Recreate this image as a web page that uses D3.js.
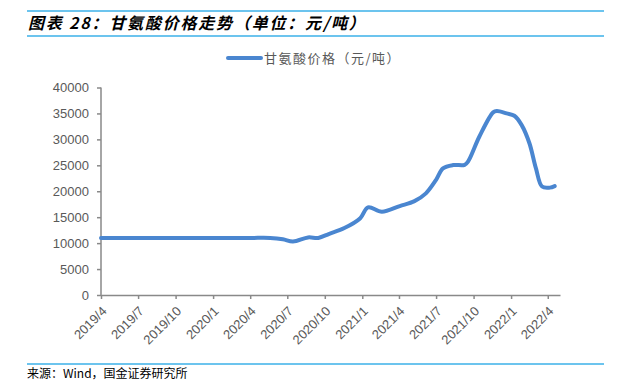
<!DOCTYPE html>
<html>
<head>
<meta charset="utf-8">
<script src="https://cdn.jsdelivr.net/npm/d3@7"></script>
<style>
  body { margin: 0; background: #fff; }
  svg { display: block; }
</style>
</head>
<body>
<div id="chart"></div>
<script>
"use strict";
const title = '图表 28：甘氨酸价格走势（单位：元/吨）';
const seriesName = '甘氨酸价格（元/吨）';
const source = '来源：Wind，国金证券研究所';
const dates = [
    '2019-04-01', '2019-07-01', '2019-10-01', '2020-01-01', '2020-04-01',
    '2020-05-20', '2020-06-20', '2020-07-15', '2020-08-21', '2020-09-15',
    '2020-10-12', '2020-11-18', '2020-12-27', '2021-01-15', '2021-02-18',
    '2021-04-03', '2021-05-09', '2021-06-06', '2021-07-01', '2021-07-18',
    '2021-08-12', '2021-09-09', '2021-09-18', '2021-10-15', '2021-11-18',
    '2021-11-27', '2021-12-21', '2022-01-09', '2022-01-27', '2022-02-15',
    '2022-03-03', '2022-03-18', '2022-04-06', '2022-04-18'
];
const prices = [
    11000, 11000, 11000, 11000, 11000,
    11000, 10750, 10300, 11100, 11000,
    11800, 12900, 14800, 16900, 16050,
    17150, 18100, 19600, 22200, 24400,
    25050, 25100, 25800, 30500, 35200,
    35450, 35000, 34550, 32750, 29250,
    24400, 20900, 20700, 21000
];
const yTicks = [0, 5000, 10000, 15000, 20000, 25000, 30000, 35000, 40000];
const xTickLabels = ['2019/4', '2019/7', '2019/10', '2020/1', '2020/4', '2020/7', '2020/10',
    '2021/1', '2021/4', '2021/7', '2021/10', '2022/1', '2022/4'];

const width = 619;
const height = 382;
const parse = d3.timeParse('%Y-%m-%d');
const data = dates.map((d, i) => ({ date: parse(d), value: prices[i] }));
const tickDates = xTickLabels.map(s => d3.timeParse('%Y/%m')(s));

const svg = d3.select('#chart').append('svg')
    .attr('width', width)
    .attr('height', height);

// header and footer rules
const rule = '#3bb0e8';
svg.append('line').attr('x1', 27).attr('x2', 604).attr('y1', 11).attr('y2', 11)
    .attr('stroke', rule).attr('stroke-width', 1.5);
svg.append('line').attr('x1', 27).attr('x2', 604).attr('y1', 36).attr('y2', 36)
    .attr('stroke', rule).attr('stroke-width', 1.5);
svg.append('line').attr('x1', 27).attr('x2', 604).attr('y1', 364).attr('y2', 364)
    .attr('stroke', rule).attr('stroke-width', 1.5);

svg.append('text')
    .attr('x', 28).attr('y', 29)
    .attr('font-family', '"Noto Sans CJK SC", sans-serif')
    .attr('font-size', 16)
    .attr('letter-spacing', 1.8)
    .attr('font-weight', 'bold')
    .attr('font-style', 'italic')
    .attr('fill', '#000')
    .text(title);

svg.append('text')
    .attr('x', 27).attr('y', 378)
    .attr('font-family', '"Noto Sans CJK SC", sans-serif')
    .attr('font-size', 12)
    .attr('fill', '#000')
    .text(source);

// scales
const x = d3.scaleTime()
    .domain([parse('2019-04-01'), parse('2022-05-01')])
    .range([101, 560]);
const y = d3.scaleLinear()
    .domain([0, 40000])
    .range([295, 87.5]);

const axisColor = '#898989';
const labelColor = '#595959';

// y axis
const yAxis = svg.append('g')
    .attr('transform', 'translate(101,0)')
    .call(d3.axisLeft(y).tickValues(yTicks).tickSize(4).tickPadding(8).tickFormat(d3.format('d')));
yAxis.select('.domain').attr('stroke', axisColor).attr('stroke-width', 1.5).attr('d', `M0,${y(40000)}V${y(0)}`);
yAxis.selectAll('.tick line').attr('stroke', axisColor).attr('stroke-width', 1.5);
yAxis.selectAll('.tick text')
    .attr('fill', labelColor)
    .attr('font-family', '"Liberation Sans", Arial, sans-serif')
    .attr('font-size', 13);

// x axis
const xAxis = svg.append('g')
    .attr('transform', 'translate(0,295)')
    .call(d3.axisBottom(x).tickValues(tickDates).tickSize(4).tickSizeOuter(0)
        .tickFormat((d, i) => xTickLabels[i]));
xAxis.select('.domain').attr('stroke', axisColor).attr('stroke-width', 1.5);
xAxis.selectAll('.tick line').attr('stroke', axisColor).attr('stroke-width', 1.5);
xAxis.selectAll('.tick text')
    .attr('fill', labelColor)
    .attr('font-family', '"Liberation Sans", Arial, sans-serif')
    .attr('font-size', 13)
    .attr('text-anchor', 'end')
    .attr('dy', null)
    .attr('y', 0)
    .attr('transform', 'translate(6,17) rotate(-45)');

// series line
const line = d3.line()
    .x(d => x(d.date))
    .y(d => y(d.value))
    .curve(d3.curveCatmullRom.alpha(0.5));

svg.append('path')
    .datum(data)
    .attr('fill', 'none')
    .attr('stroke', '#4a86d0')
    .attr('stroke-width', 4)
    .attr('stroke-linejoin', 'round')
    .attr('stroke-linecap', 'round')
    .attr('d', line);

// legend
svg.append('line')
    .attr('x1', 228).attr('x2', 261).attr('y1', 58).attr('y2', 58)
    .attr('stroke', '#4a86d0').attr('stroke-width', 4).attr('stroke-linecap', 'round');
svg.append('text')
    .attr('x', 264).attr('y', 62.5)
    .attr('font-family', '"Noto Sans CJK SC", sans-serif')
    .attr('font-size', 13)
    .attr('letter-spacing', 1.5)
    .attr('fill', labelColor)
    .text(seriesName);
</script>
</body>
</html>
